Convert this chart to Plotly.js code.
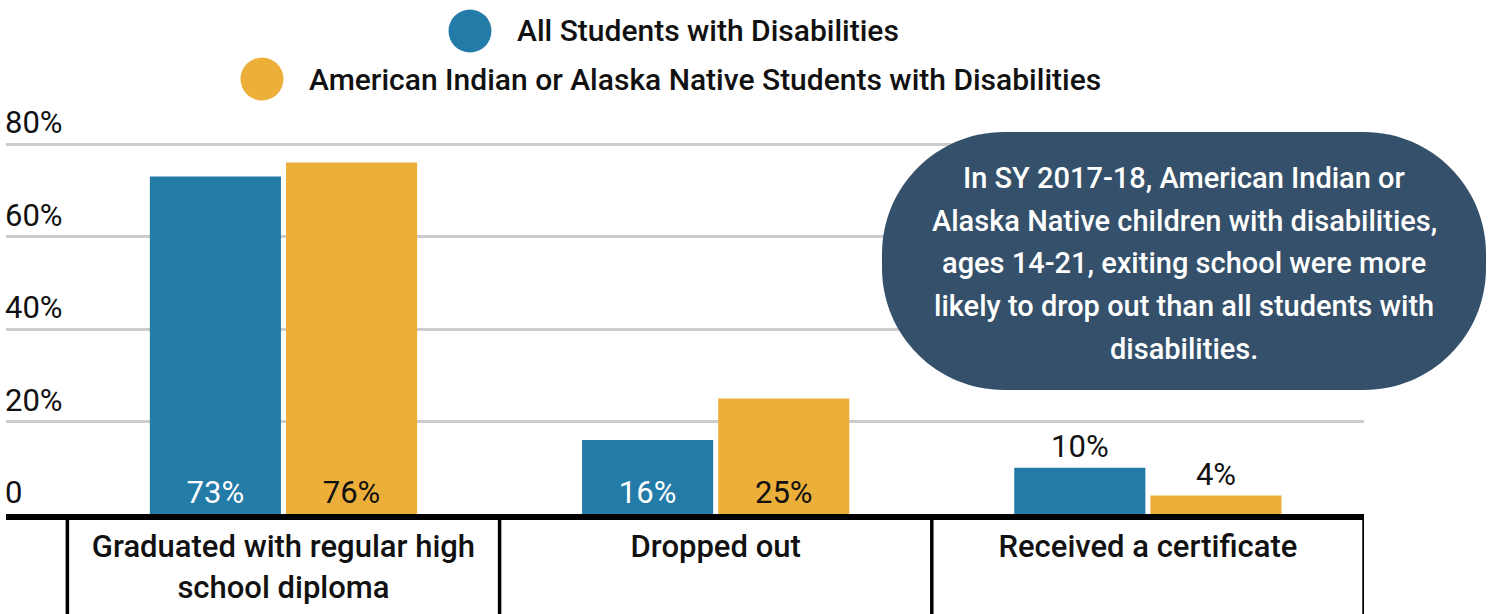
<!DOCTYPE html>
<html>
<head>
<meta charset="utf-8">
<script src="https://cdn.plot.ly/plotly-3.0.1.min.js"></script>
<style>
    html, body { margin: 0; padding: 0; background: #fff; }
    #graphPlotChart { width: 1488px; height: 614px; }
</style>
</head>
<body>
<div id="graphPlotChart"></div>
<script>
const categories = ['Graduated with regular high<br>school diploma', 'Dropped out', 'Received a certificate'];
const allStudents = [73, 16, 10];
const aianStudents = [76, 25, 4];
const seriesNames = ['All Students with Disabilities', 'American Indian or Alaska Native Students with Disabilities'];
const yTickVals = [0, 20, 40, 60, 80];
const yTickText = ['0', '20%', '40%', '60%', '80%'];
const noteLines = [
    'In SY 2017-18, American Indian or',
    'Alaska Native children with disabilities,',
    'ages 14-21, exiting school were more',
    'likely to drop out than all students with',
    'disabilities.'
];

const BLUE = '#237ba8';
const GOLD = '#ecaf3a';
const SLATE = '#35506a';
const FONT = 'Roboto, "Open Sans", sans-serif';

// plot area in page pixels, used for the overlay bits (legend, note box)
// top is left roomy so the "80%" label sits inside the plot
const PLOT = { l: 6, t: 100, w: 1358, h: 414 };
const Y_MAX = 80 * PLOT.h / 370;
const px = x => (x - PLOT.l) / PLOT.w;
const py = y => (PLOT.t + PLOT.h - y) / PLOT.h;

class BuildChart {

    static barTrace(values, name, color, insideColor) {
        return {
            type: 'bar',
            x: categories,
            y: values,
            name: name,
            marker: { color: color },
            text: values.map(v => v + '%'),
            textposition: values.map(v => v >= 12 ? 'inside' : 'outside'),
            insidetextanchor: 'start',
            insidetextfont: { family: FONT, size: 31, color: insideColor },
            outsidetextfont: { family: FONT, size: 31, color: '#111' },
            textangle: 0,
            constraintext: 'none',
            cliponaxis: false,
            hoverinfo: 'skip'
        };
    }

    static roundedBox(x0, y0, x1, y1, r) {
        let k = 0.5523 * r;
        let p = (x, y) => px(x).toFixed(5) + ',' + py(y).toFixed(5);
        return 'M' + p(x0 + r, y0) +
            ' L' + p(x1 - r, y0) +
            ' C' + p(x1 - r + k, y0) + ' ' + p(x1, y0 + r - k) + ' ' + p(x1, y0 + r) +
            ' L' + p(x1, y1 - r) +
            ' C' + p(x1, y1 - r + k) + ' ' + p(x1 - r + k, y1) + ' ' + p(x1 - r, y1) +
            ' L' + p(x0 + r, y1) +
            ' C' + p(x0 + r - k, y1) + ' ' + p(x0, y1 - r + k) + ' ' + p(x0, y1 - r) +
            ' L' + p(x0, y0 + r) +
            ' C' + p(x0, y0 + r - k) + ' ' + p(x0 + r - k, y0) + ' ' + p(x0 + r, y0) + ' Z';
    }

    static draw() {
        let trace1 = BuildChart.barTrace(allStudents, seriesNames[0], BLUE, '#ffffff');
        let trace2 = BuildChart.barTrace(aianStudents, seriesNames[1], GOLD, '#111111');

        let shapes = [];

        // category separators under the axis
        [-0.5, 0.5, 1.5, 2.5].forEach(x => {
            shapes.push({
                type: 'line', xref: 'x', yref: 'paper',
                x0: x, x1: x, y0: 0, y1: py(614),
                line: { color: '#000', width: 3.5 }
            });
        });

        // note box
        shapes.push({
            type: 'path', xref: 'paper', yref: 'paper', layer: 'above',
            path: BuildChart.roundedBox(882, 132, 1486, 390, 122),
            fillcolor: SLATE, line: { width: 0 }
        });

        // legend dots
        let legendRows = [
            { x: 470, y: 31, text: seriesNames[0], color: BLUE },
            { x: 262, y: 79, text: seriesNames[1], color: GOLD }
        ];
        legendRows.forEach(row => {
            shapes.push({
                type: 'circle', xref: 'paper', yref: 'paper',
                xsizemode: 'pixel', ysizemode: 'pixel',
                xanchor: px(row.x), yanchor: py(row.y),
                x0: -21.5, x1: 21.5, y0: -21.5, y1: 21.5,
                fillcolor: row.color, line: { width: 0 }
            });
        });

        let annotations = legendRows.map(row => ({
            xref: 'paper', yref: 'paper',
            x: px(row.x + 45), y: py(row.y),
            xanchor: 'left', yanchor: 'middle',
            text: row.text, showarrow: false,
            font: { family: FONT, size: 30, color: '#111', weight: 500 }
        }));

        noteLines.forEach((line, i) => {
            annotations.push({
                xref: 'paper', yref: 'paper',
                x: px(1184), y: py(178 + i * 42.7),
                xanchor: 'center', yanchor: 'middle',
                text: line, showarrow: false,
                font: { family: FONT, size: 29, color: '#ffffff', weight: 500 }
            });
        });

        let layout = {
            width: 1488,
            height: 614,
            showlegend: false,
            barmode: 'group',
            bargap: 0.37,
            bargroupgap: 0.037,
            paper_bgcolor: '#fff',
            plot_bgcolor: '#fff',
            font: { family: FONT, color: '#111' },

            xaxis: {
                type: 'category',
                range: [-0.642, 2.5],
                showgrid: false,
                zeroline: false,
                showline: true,
                linecolor: '#000',
                linewidth: 6,
                ticks: '',
                tickfont: { family: FONT, size: 31, color: '#111', weight: 500 },
                fixedrange: true
            },

            yaxis: {
                range: [0, Y_MAX],
                tickvals: yTickVals,
                ticktext: yTickText,
                ticklabelposition: 'inside top',
                ticklabelstandoff: -4,
                showgrid: true,
                gridcolor: '#cccccc',
                gridwidth: 3,
                zeroline: false,
                showline: false,
                ticks: '',
                tickfont: { family: FONT, size: 31, color: '#111' },
                fixedrange: true
            },

            shapes: shapes,
            annotations: annotations,

            margin: {
                l: PLOT.l,
                r: 1488 - PLOT.l - PLOT.w,
                t: PLOT.t,
                b: 614 - PLOT.t - PLOT.h
            }
        };

        Plotly.newPlot('graphPlotChart', [trace1, trace2], layout, { displayModeBar: false, staticPlot: true });
    }
}

BuildChart.draw();
</script>
</body>
</html>
